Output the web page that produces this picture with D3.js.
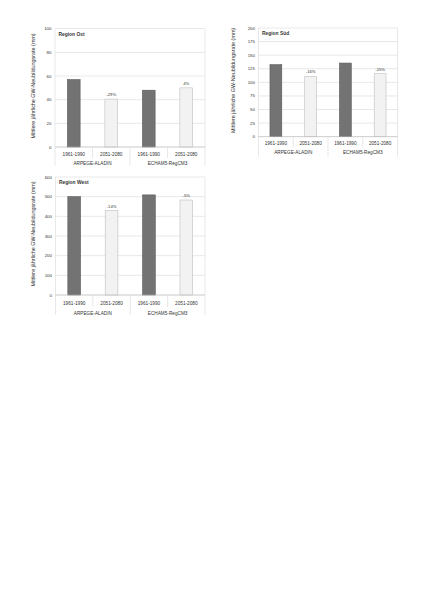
<!DOCTYPE html>
<html>
<head>
<meta charset="utf-8">
<script src="https://cdn.jsdelivr.net/npm/d3@7"></script>
<style>
  html, body { margin: 0; padding: 0; background: #fff; }
  svg { display: block; }
  text { font-family: "Liberation Sans", Arial, sans-serif; fill: #333; }
</style>
</head>
<body>
<svg id="chart" width="424" height="600"></svg>
<script>
// ---- data ----
const categories = ["1961-1990", "2051-2080", "1961-1990", "2051-2080"];
const periodType = ["past", "future", "past", "future"];
const models = ["ARPEGE-ALADIN", "ECHAM5-RegCM3"];
const yTitle = "Mittlere jährliche GW-Neubildungsrate (mm)";

const ostTitle = "Region Ost";
const ostValues = [57, 40.5, 48, 50];
const ostChanges = ["", "-29%", "", "4%"];
const ostTicks = [0, 20, 40, 60, 80, 100];

const suedTitle = "Region Süd";
const suedValues = [132.5, 111, 135.5, 116];
const suedChanges = ["", "-16%", "", "-15%"];
const suedTicks = [0, 25, 50, 75, 100, 125, 150, 175, 200];

const westTitle = "Region West";
const westValues = [500, 429, 509, 483];
const westChanges = ["", "-14%", "", "-5%"];
const westTicks = [0, 100, 200, 300, 400, 500, 600];

// ---- drawing ----
const svg = d3.select("#chart");

function drawChart(cfg) {
  const g = svg.append("g");
  const x = d3.scaleBand()
    .domain(d3.range(categories.length))
    .range([cfg.left, cfg.right])
    .paddingInner(0.66)
    .paddingOuter(0.33);
  const band = (cfg.right - cfg.left) / categories.length;
  const yMax = d3.max(cfg.ticks);
  const y = d3.scaleLinear().domain([0, yMax]).range([cfg.bottom, cfg.top]);

  // gridlines
  g.selectAll("line.grid").data(cfg.ticks.filter(t => t > 0 && t < yMax)).enter()
    .append("line")
    .attr("x1", cfg.left).attr("x2", cfg.right)
    .attr("y1", d => y(d)).attr("y2", d => y(d))
    .attr("stroke", "#d9d9d9").attr("stroke-width", 0.6);

  // plot border
  g.append("rect")
    .attr("x", cfg.left).attr("y", cfg.top)
    .attr("width", cfg.right - cfg.left).attr("height", cfg.bottom - cfg.top)
    .attr("fill", "none").attr("stroke", "#d9d9d9").attr("stroke-width", 0.6);

  // y axis tick labels
  g.selectAll("text.ytick").data(cfg.ticks).enter()
    .append("text")
    .attr("x", cfg.left - 3.5)
    .attr("y", d => y(d))
    .attr("dy", "0.35em")
    .attr("text-anchor", "end")
    .attr("font-size", 4.4)
    .text(d => d);

  // y axis title
  g.append("text")
    .attr("transform", `translate(${cfg.titleX},${(cfg.top + cfg.bottom) / 2 - 2}) rotate(-90)`)
    .attr("text-anchor", "middle")
    .attr("dy", "0.35em")
    .attr("font-size", 5.4)
    .text(yTitle);

  // bars
  g.selectAll("rect.bar").data(cfg.values).enter()
    .append("rect")
    .attr("x", (d, i) => x(i))
    .attr("width", x.bandwidth())
    .attr("y", d => y(d))
    .attr("height", d => y(0) - y(d))
    .attr("fill", (d, i) => periodType[i] === "past" ? "#737373" : "#f2f2f2")
    .attr("stroke", (d, i) => periodType[i] === "past" ? "#5a5a5a" : "#bfbfbf")
    .attr("stroke-width", 0.6);

  // change labels
  g.selectAll("text.chg").data(cfg.values).enter()
    .append("text")
    .attr("x", (d, i) => x(i) + x.bandwidth() / 2)
    .attr("y", d => y(d) - 3)
    .attr("text-anchor", "middle")
    .attr("font-size", 4.2)
    .text((d, i) => cfg.changes[i]);

  // x axis line
  g.append("line")
    .attr("x1", cfg.left).attr("x2", cfg.right)
    .attr("y1", y(0)).attr("y2", y(0))
    .attr("stroke", "#bfbfbf").attr("stroke-width", 0.6);

  // category labels
  g.selectAll("text.cat").data(categories).enter()
    .append("text")
    .attr("x", (d, i) => x(i) + x.bandwidth() / 2)
    .attr("y", y(0) + cfg.catOff)
    .attr("dy", "0.35em")
    .attr("text-anchor", "middle")
    .attr("font-size", 4.7)
    .text(d => d);

  // model labels
  const perGroup = categories.length / models.length;
  g.selectAll("text.model").data(models).enter()
    .append("text")
    .attr("x", (d, i) => cfg.left + band * perGroup * (i + 0.5))
    .attr("y", y(0) + cfg.grpOff)
    .attr("dy", "0.35em")
    .attr("text-anchor", "middle")
    .attr("font-size", 4.7)
    .text(d => d);

  // separators
  g.selectAll("line.sep").data(d3.range(categories.length + 1)).enter()
    .append("line")
    .attr("x1", i => cfg.left + band * i).attr("x2", i => cfg.left + band * i)
    .attr("y1", y(0))
    .attr("y2", i => y(0) + (i % perGroup === 0 ? cfg.longTick : cfg.shortTick))
    .attr("stroke", "#d9d9d9").attr("stroke-width", 0.6);

  // chart title
  g.append("text")
    .attr("x", cfg.left + 3.5)
    .attr("y", cfg.top + 6.8)
    .attr("font-size", 4.9)
    .attr("font-weight", "bold")
    .attr("fill", "#000")
    .text(cfg.title);
}

drawChart({ title: ostTitle, values: ostValues, changes: ostChanges, ticks: ostTicks,
  left: 55, right: 205, top: 28.7, bottom: 147, titleX: 33,
  catOff: 7.5, grpOff: 16.7, shortTick: 11, longTick: 19 });

drawChart({ title: suedTitle, values: suedValues, changes: suedChanges, ticks: suedTicks,
  left: 258.5, right: 397.5, top: 28, bottom: 136.7, titleX: 233,
  catOff: 6.5, grpOff: 16, shortTick: 10.5, longTick: 20 });

drawChart({ title: westTitle, values: westValues, changes: westChanges, ticks: westTicks,
  left: 55.5, right: 205, top: 177, bottom: 295, titleX: 33,
  catOff: 8.3, grpOff: 18.3, shortTick: 12, longTick: 20 });
</script>
</body>
</html>
